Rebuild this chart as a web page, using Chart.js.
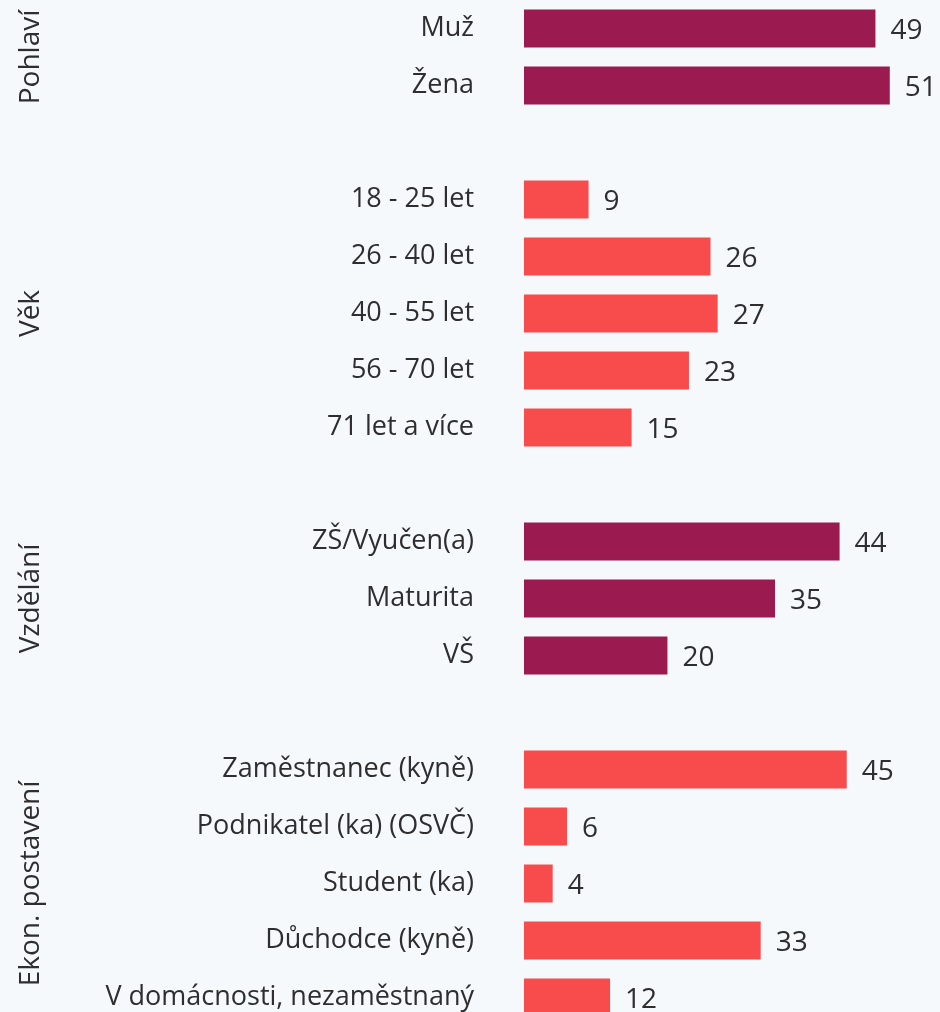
<!DOCTYPE html>
<html>
<head>
<meta charset="utf-8">
<script src="https://cdn.jsdelivr.net/npm/chart.js@4/dist/chart.umd.min.js"></script>
<style>
  html, body { margin: 0; padding: 0; background: #f5f9fc; overflow: hidden; }
  canvas { display: block; }
</style>
</head>
<body>
<canvas id="barChart" width="940" height="1026"></canvas>
<script>
// data
const groupNames = ['Pohlaví', 'Věk', 'Vzdělání', 'Ekon. postavení'];
const genderLabels = ['Muž', 'Žena'];
const genderValues = [49, 51];
const ageLabels = ['18 - 25 let', '26 - 40 let', '40 - 55 let', '56 - 70 let', '71 let a více'];
const ageValues = [9, 26, 27, 23, 15];
const eduLabels = ['ZŠ/Vyučen(a)', 'Maturita', 'VŠ'];
const eduValues = [44, 35, 20];
const econLabels = ['Zaměstnanec (kyně)', 'Podnikatel (ka) (OSVČ)', 'Student (ka)', 'Důchodce (kyně)', 'V domácnosti, nezaměstnaný'];
const econValues = [45, 6, 4, 33, 12];

const groupLabels = [genderLabels, ageLabels, eduLabels, econLabels];
const groupValues = [genderValues, ageValues, eduValues, econValues];
const groupColors = ['#9b1b51', '#f84c4c', '#9b1b51', '#f84c4c'];

// one empty row between groups
const labels = [];
const values = [];
const colors = [];
const groupRows = [];
groupLabels.forEach((g, gi) => {
    if (gi > 0) { labels.push(''); values.push(null); colors.push('transparent'); }
    const first = labels.length;
    g.forEach((l, i) => {
        labels.push(l);
        values.push(groupValues[gi][i]);
        colors.push(groupColors[gi]);
    });
    groupRows.push([first, labels.length - 1]);
});

const textColor = '#2e2e2e';
const fontFamily = "'Open Sans', 'Noto Sans', sans-serif";

const valueLabels = {
    id: 'valueLabels',
    afterDatasetsDraw(chart) {
        const ctx = chart.ctx;
        const meta = chart.getDatasetMeta(0);
        ctx.save();
        ctx.fillStyle = textColor;
        ctx.font = '28px ' + fontFamily;
        ctx.textAlign = 'left';
        ctx.textBaseline = 'middle';
        meta.data.forEach((bar, i) => {
            if (values[i] == null) return;
            ctx.fillText(values[i], bar.x + 15, bar.y + 3);
        });
        ctx.restore();
    }
};

const groupTitles = {
    id: 'groupTitles',
    afterDraw(chart) {
        const ctx = chart.ctx;
        const y = chart.scales.y;
        ctx.save();
        ctx.fillStyle = textColor;
        ctx.font = '28px ' + fontFamily;
        ctx.textAlign = 'center';
        ctx.textBaseline = 'middle';
        groupRows.forEach((r, gi) => {
            const cy = (y.getPixelForValue(r[0]) + y.getPixelForValue(r[1])) / 2;
            ctx.save();
            ctx.translate(31, cy);
            ctx.rotate(-Math.PI / 2);
            ctx.fillText(groupNames[gi], 0, 0);
            ctx.restore();
        });
        ctx.restore();
    }
};

const ctx = document.getElementById('barChart');
new Chart(ctx, {
    type: 'bar',
    data: {
        labels: labels,
        datasets: [{
            data: values,
            backgroundColor: colors,
            borderWidth: 0,
            barPercentage: 0.67,
            categoryPercentage: 1
        }]
    },
    options: {
        indexAxis: 'y',
        responsive: false,
        animation: false,
        layout: { padding: 0 },
        scales: {
            x: { display: false, min: 0, max: 58 },
            y: {
                grid: { display: false, drawTicks: false },
                border: { display: false },
                afterFit: (s) => {
                    s.width = 524;
                    s.paddingTop = 0;
                    s.paddingBottom = 0;
                },
                ticks: {
                    padding: 50,
                    color: textColor,
                    font: { size: 27, family: fontFamily }
                }
            }
        },
        plugins: {
            legend: { display: false },
            tooltip: { enabled: false }
        }
    },
    plugins: [valueLabels, groupTitles]
});
</script>
</body>
</html>
